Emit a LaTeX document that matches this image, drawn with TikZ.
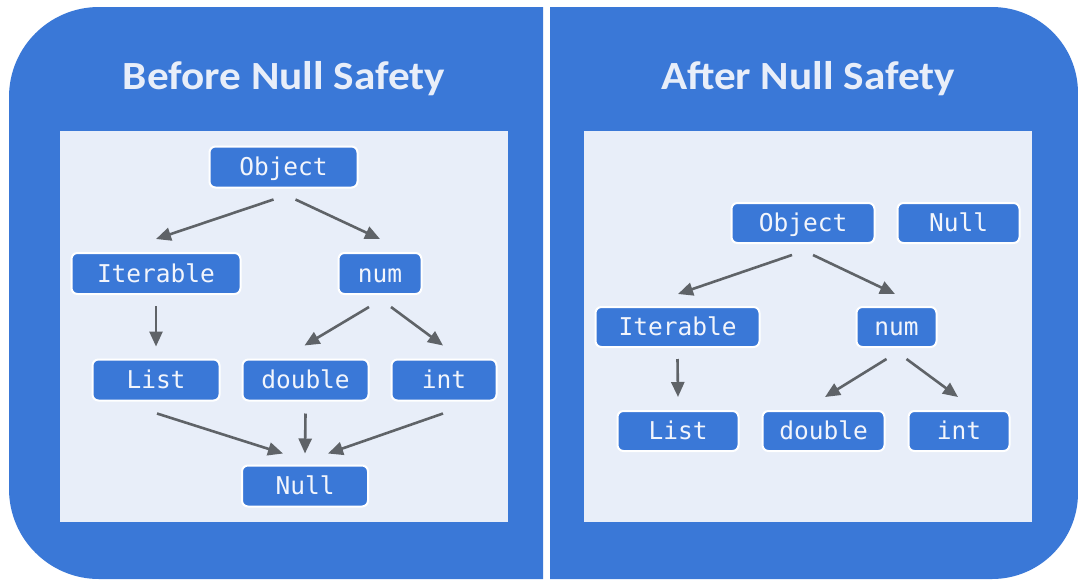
\documentclass[tikz,border=0pt]{standalone}
\usepackage{fontspec}
\setmainfont{Carlito}
\setmonofont{DejaVu Sans Mono}
\usetikzlibrary{arrows.meta}
\definecolor{panelblue}{HTML}{3A78D7}
\definecolor{paper}{HTML}{E8EEF9}
\definecolor{linkgray}{HTML}{5F6368}
\definecolor{labelwhite}{HTML}{F2F5FC}
\newcommand{\widehead}[1]{\scalebox{1.08}[1]{#1}}
\begin{document}
\begin{tikzpicture}[x=1pt,y=-1pt,
  typebox/.style={draw=white, line width=2pt, fill=panelblue, rounded corners=6pt,
    text=labelwhite, font=\ttfamily\fontsize{24.5}{24.5}\selectfont,
    text height=17.5pt, text depth=0pt,
    minimum height=41pt, inner sep=0pt},
  link/.style={draw=linkgray, line width=2.6pt, -{Triangle[length=15pt,width=13pt]}},
  heading/.style={text=paper, font=\bfseries\fontsize{40}{40}\selectfont, anchor=base}]

\useasboundingbox (0,0) rectangle (1078,579);
\fill[white] (0,0) rectangle (1078,579);

% left panel, rounded on its outer side only
\begin{scope}
  \clip (0,0) rectangle (543,579);
  \fill[panelblue, rounded corners=90pt] (9,7) rectangle (700,579);
\end{scope}
% right panel
\begin{scope}
  \clip (550,0) rectangle (1078,579);
  \fill[panelblue, rounded corners=86pt] (400,7) rectangle (1078,579);
\end{scope}

% inner sheets
\fill[paper] (60,131) rectangle (508,522);
\fill[paper] (584,131) rectangle (1032,522);

% headings
\node[heading] (t1) at (284,89.5) {\widehead{Before Null Safety}};
\node[heading] (t2) at (808,89.5) {\widehead{After Null Safety}};

% before: every type leads down to Null
\node[typebox, minimum width=148pt] (obj)  at (283.5,167) {Object};
\node[typebox, minimum width=169pt] (iter) at (156,273.5) {Iterable};
\node[typebox, minimum width=83pt]  (num)  at (380,273.5) {num};
\node[typebox, minimum width=127pt] (lst)  at (156,380) {List};
\node[typebox, minimum width=126pt] (dbl)  at (305.5,380) {double};
\node[typebox, minimum width=105pt] (int)  at (444,380) {int};
\node[typebox, minimum width=126pt] (nul)  at (305,486) {Null};

\draw[link] ([xshift=-10pt,yshift=-11pt]obj.south) -- ([yshift=13pt]iter.north);
\draw[link] ([xshift=12pt,yshift=-11pt]obj.south) -- ([yshift=13pt]num.north);
\draw[link] ([yshift=-11pt]iter.south) -- ([yshift=12pt]lst.north);
\draw[link] ([xshift=-11pt,yshift=-12pt]num.south) -- ([xshift=-1pt,yshift=13pt]dbl.north);
\draw[link] ([xshift=11pt,yshift=-12pt]num.south) -- ([xshift=-1pt,yshift=13pt]int.north);
\draw[link] ([xshift=1pt,yshift=-12pt]lst.south) -- ([xshift=-22pt,yshift=11pt]nul.north);
\draw[link] ([yshift=-12pt]dbl.south) -- ([yshift=11pt]nul.north);
\draw[link] ([xshift=-1pt,yshift=-12pt]int.south) -- ([xshift=23pt,yshift=11pt]nul.north);

% after: Null stands apart
\node[typebox, minimum width=143pt, minimum height=40pt] (obj2)  at (803,223) {Object};
\node[typebox, minimum width=122pt, minimum height=40pt] (nul2)  at (958.5,223) {Null};
\node[typebox, minimum width=164pt, minimum height=40pt] (iter2) at (677.5,327) {Iterable};
\node[typebox, minimum width=80pt,  minimum height=40pt] (num2)  at (896.5,327) {num};
\node[typebox, minimum width=121pt, minimum height=40pt] (lst2)  at (678,431) {List};
\node[typebox, minimum width=122pt, minimum height=40pt] (dbl2)  at (823.5,431) {double};
\node[typebox, minimum width=101pt, minimum height=40pt] (int2)  at (959,431) {int};

\draw[link] ([xshift=-11pt,yshift=-11pt]obj2.south) -- ([xshift=0.5pt,yshift=12pt]iter2.north);
\draw[link] ([xshift=10pt,yshift=-11pt]obj2.south) -- ([xshift=-1.5pt,yshift=12pt]num2.north);
\draw[link] ([yshift=-11pt]iter2.south) -- ([yshift=13pt]lst2.north);
\draw[link] ([xshift=-10pt,yshift=-11pt]num2.south) -- ([xshift=1.5pt,yshift=13pt]dbl2.north);
\draw[link] ([xshift=10pt,yshift=-11pt]num2.south) -- ([xshift=-1pt,yshift=13pt]int2.north);
\end{tikzpicture}
\end{document}
